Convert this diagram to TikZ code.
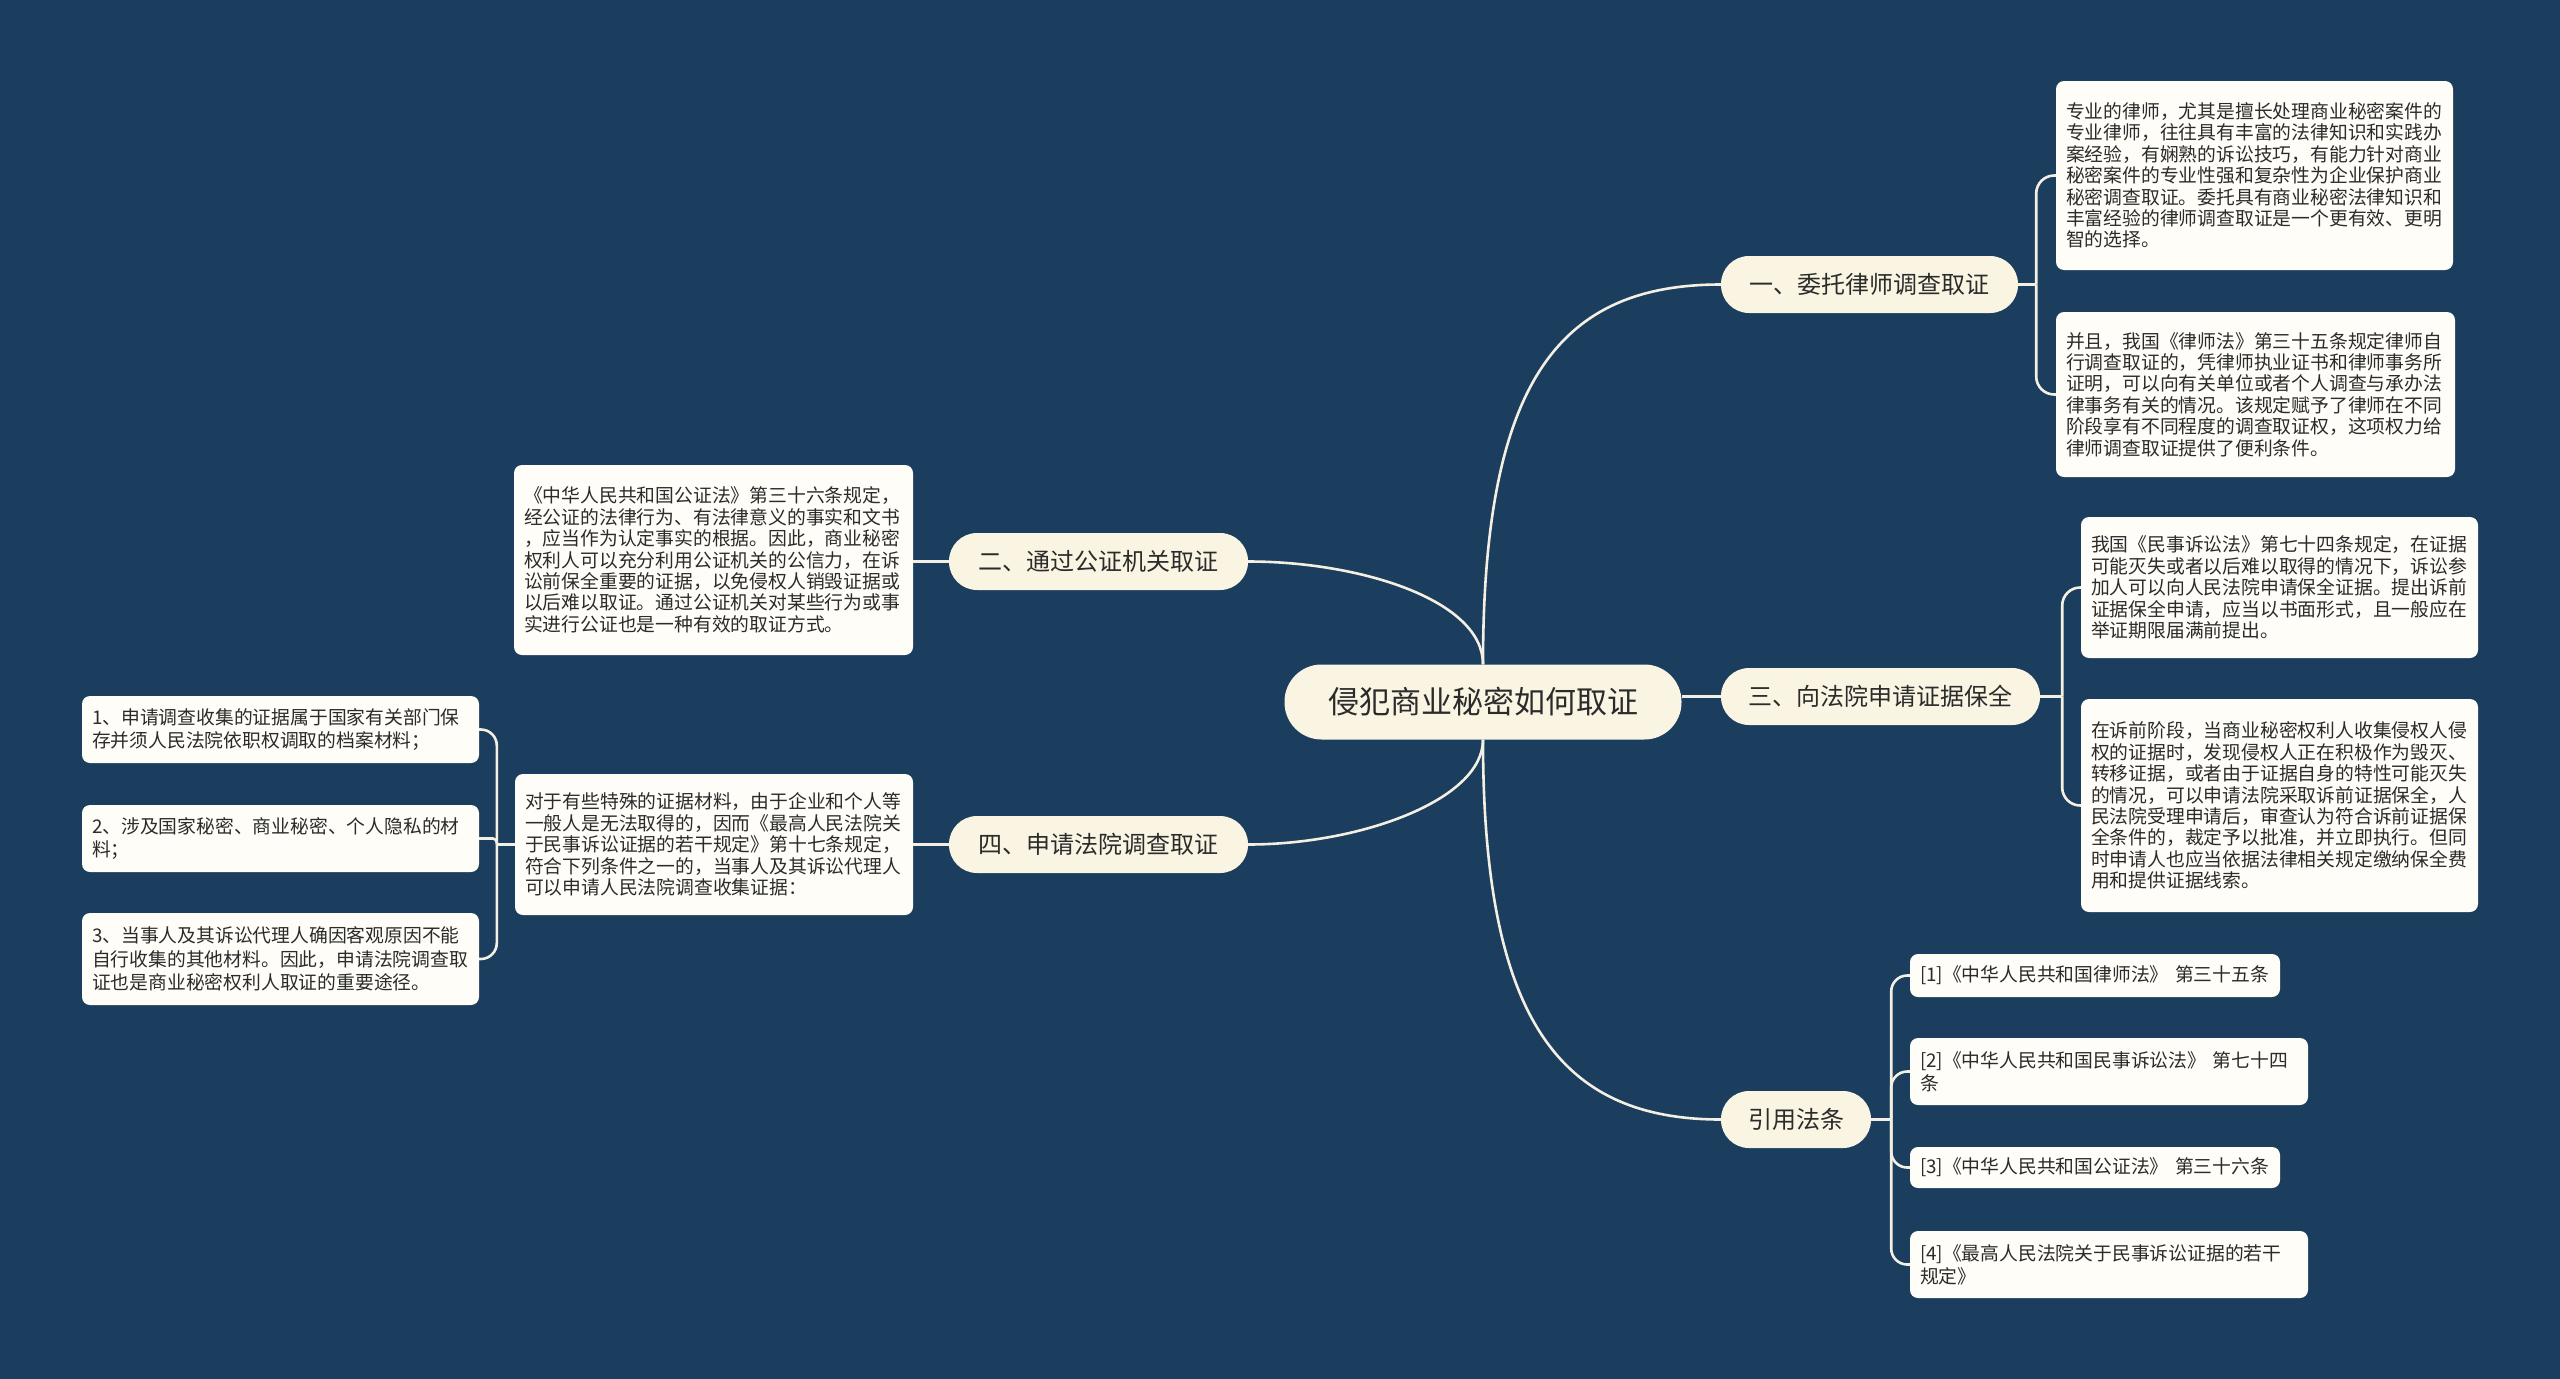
\documentclass[tikz,border=0pt]{standalone}
\usepackage{fontspec}
\newfontfamily\cjk{Noto Sans CJK SC}
\definecolor{bgc}{HTML}{1B3D5E}
\definecolor{pill}{HTML}{FAF4E2}
\definecolor{leaffill}{HTML}{FEFDF8}
\definecolor{txt}{HTML}{2B2B2B}
\definecolor{linec}{HTML}{F3EFE2}
\tikzset{
  rootnode/.style={fill=pill, rounded corners=37pt, minimum width=397pt, minimum height=75pt, inner sep=0pt, font=\cjk\fontsize{31}{36}\selectfont, text=txt},
  lvl/.style={fill=pill, rounded corners=28pt, minimum height=57pt, inner sep=0pt, font=\cjk\fontsize{24}{28}\selectfont, text=txt},
  leaf/.style={fill=leaffill, rounded corners=8pt, inner xsep=10pt, inner ysep=0pt, align=left, font=\cjk\fontsize{18.8}{21.4}\selectfont, text=txt},
  leafb/.style={leaf, font=\cjk\fontsize{18.8}{23.2}\selectfont},
  link/.style={draw=linec, line width=2.6pt},
}
\begin{document}
\begin{tikzpicture}[x=1pt,y=-1pt]
\fill[bgc] (0,0) rectangle (2560,1379);
\useasboundingbox (0,0) rectangle (2560,1379);

% root and level 1
\node[rootnode] (root) at (1483,702) {侵犯商业秘密如何取证};
\node[lvl, minimum width=297pt] (n1) at (1869.5,284.5) {一、委托律师调查取证};
\node[lvl, minimum width=319pt] (n3) at (1880.5,696.5) {三、向法院申请证据保全};
\node[lvl, minimum width=150pt] (n5) at (1796,1119.5) {引用法条};
\node[lvl, minimum width=299pt] (n2) at (1098.5,561.5) {二、通过公证机关取证};
\node[lvl, minimum width=299pt] (n4) at (1098.5,844.5) {四、申请法院调查取证};

% leaves right
\node[leaf, minimum width=397pt, minimum height=189pt, text width=377pt] (r1a) at (2254.5,175.5) {专业的律师，尤其是擅长处理商业秘密案件的\\专业律师，往往具有丰富的法律知识和实践办\\案经验，有娴熟的诉讼技巧，有能力针对商业\\秘密案件的专业性强和复杂性为企业保护商业\\秘密调查取证。委托具有商业秘密法律知识和\\丰富经验的律师调查取证是一个更有效、更明\\智的选择。};
\node[leaf, minimum width=399pt, minimum height=165pt, text width=379pt] (r1b) at (2255.5,394.5) {并且，我国《律师法》第三十五条规定律师自\\行调查取证的，凭律师执业证书和律师事务所\\证明，可以向有关单位或者个人调查与承办法\\律事务有关的情况。该规定赋予了律师在不同\\阶段享有不同程度的调查取证权，这项权力给\\律师调查取证提供了便利条件。};
\node[leaf, minimum width=397pt, minimum height=141pt, text width=377pt] (r3a) at (2279.5,587.5) {我国《民事诉讼法》第七十四条规定，在证据\\可能灭失或者以后难以取得的情况下，诉讼参\\加人可以向人民法院申请保全证据。提出诉前\\证据保全申请，应当以书面形式，且一般应在\\举证期限届满前提出。};
\node[leaf, minimum width=397pt, minimum height=213pt, text width=377pt] (r3b) at (2279.5,805.5) {在诉前阶段，当商业秘密权利人收集侵权人侵\\权的证据时，发现侵权人正在积极作为毁灭、\\转移证据，或者由于证据自身的特性可能灭失\\的情况，可以申请法院采取诉前证据保全，人\\民法院受理申请后，审查认为符合诉前证据保\\全条件的，裁定予以批准，并立即执行。但同\\时申请人也应当依据法律相关规定缴纳保全费\\用和提供证据线索。};

% refs
\node[leafb, minimum width=370pt, minimum height=43pt, text width=350pt] (f1) at (2095,975.5) {[1]《中华人民共和国律师法》 第三十五条};
\node[leafb, minimum width=398pt, minimum height=67pt, text width=378pt] (f2) at (2109,1071.5) {[2]《中华人民共和国民事诉讼法》 第七十四\\条};
\node[leafb, minimum width=370pt, minimum height=41pt, text width=350pt] (f3) at (2095,1167.5) {[3]《中华人民共和国公证法》 第三十六条};
\node[leafb, minimum width=398pt, minimum height=67pt, text width=378pt] (f4) at (2109,1264.5) {[4]《最高人民法院关于民事诉讼证据的若干\\规定》};

% leaves left
\node[leaf, minimum width=399pt, minimum height=190pt, text width=379pt] (l2) at (713.5,560) {《中华人民共和国公证法》第三十六条规定，\\经公证的法律行为、有法律意义的事实和文书\\，应当作为认定事实的根据。因此，商业秘密\\权利人可以充分利用公证机关的公信力，在诉\\讼前保全重要的证据，以免侵权人销毁证据或\\以后难以取证。通过公证机关对某些行为或事\\实进行公证也是一种有效的取证方式。};
\node[leaf, minimum width=398pt, minimum height=141pt, text width=378pt] (l4) at (714,844.5) {对于有些特殊的证据材料，由于企业和个人等\\一般人是无法取得的，因而《最高人民法院关\\于民事诉讼证据的若干规定》第十七条规定，\\符合下列条件之一的，当事人及其诉讼代理人\\可以申请人民法院调查收集证据：};
\node[leafb, minimum width=397pt, minimum height=67pt, text width=377pt] (c1) at (280.5,729.5) {1、申请调查收集的证据属于国家有关部门保\\存并须人民法院依职权调取的档案材料；};
\node[leafb, minimum width=397pt, minimum height=67pt, text width=377pt] (c2) at (280.5,838.5) {2、涉及国家秘密、商业秘密、个人隐私的材\\料；};
\node[leafb, minimum width=397pt, minimum height=92pt, text width=377pt] (c3) at (280.5,959) {3、当事人及其诉讼代理人确因客观原因不能\\自行收集的其他材料。因此，申请法院调查取\\证也是商业秘密权利人取证的重要途径。};

% main connectors
\draw[link] (root.north) .. controls (1483,380) and (1560,284.5) .. (n1.west);
\draw[link] (root.north) .. controls (1483,600) and (1360,561.5) .. (n2.east);
\draw[link] (root.south) .. controls (1483,800) and (1360,844.5) .. (n4.east);
\draw[link] (root.south) .. controls (1483,1020) and (1560,1119.5) .. (n5.west);
\draw[link] (root.east |- n3.west) -- (n3.west);

% branch connectors
\draw[link] (n1.east) -- ++(18,0) coordinate (t1);
\draw[link, rounded corners=18pt] (t1) |- (r1a.west);
\draw[link, rounded corners=18pt] (t1) |- (r1b.west);
\draw[link] (n3.east) -- ++(22,0) coordinate (t3);
\draw[link, rounded corners=18pt] (t3) |- (r3a.west);
\draw[link, rounded corners=18pt] (t3) |- (r3b.west);
\draw[link] (n5.east) -- ++(20,0) coordinate (t5);
\draw[link, rounded corners=16pt] (t5) |- (f1.west);
\draw[link, rounded corners=16pt] (t5) |- (f2.west);
\draw[link, rounded corners=16pt] (t5) |- (f3.west);
\draw[link, rounded corners=16pt] (t5) |- (f4.west);
\draw[link] (n2.west) -- (n2.west -| l2.east);
\draw[link] (n4.west) -- (n4.west -| l4.east);
\draw[link] (l4.west) -- ++(-18,0) coordinate (t4);
\draw[link, rounded corners=16pt] (t4) |- (c1.east);
\draw[link, rounded corners=4pt] (t4) |- (c2.east);
\draw[link, rounded corners=16pt] (t4) |- (c3.east);
\end{tikzpicture}
\end{document}
